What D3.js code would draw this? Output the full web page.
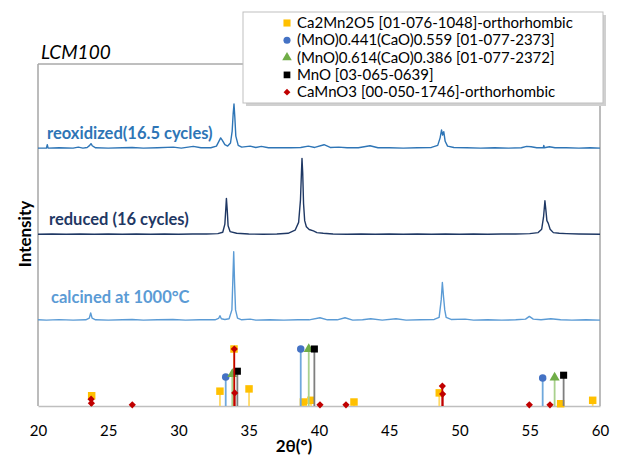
<!DOCTYPE html>
<html>
  <head>
    <script src="https://d3js.org/d3.v7.min.js"></script>
    <style>
      body { margin: 0; background: #fff; }
      text { font-family: Lato, "Open Sans", sans-serif; }
    </style>
  </head>
  <body>
    <script>

    // x ticks (2theta, degrees)
    var xTicks = [20, 25, 30, 35, 40, 45, 50, 55, 60];

    // measured patterns: [2theta, intensity above own baseline]
    var reoxidized = [
      [20,0],[20.6,0],[20.66,1],[20.72,0],[21.5,0.1],[22.5,0],[22.87,0.3],[23.2,0],[23.5,0.2],
      [23.68,0.8],[23.77,1.3],[23.86,0.7],[24.1,0.1],[25,0],[26,0.1],[26.7,0.2],[27.5,0],
      [28.5,0.1],[29.63,0.3],[30.2,0],[31.05,0.5],[31.6,0.1],[32.3,0.1],[32.7,0.6],[32.9,2.2],
      [33.0,3.0],[33.1,2.4],[33.3,1.0],[33.5,0.6],[33.7,1.5],[33.82,5],[33.89,10],[33.95,12.9],
      [34.01,9],[34.08,3.5],[34.25,0.8],[34.5,0.3],[35.1,0.6],[35.5,0.2],[35.9,0.5],[36.4,0.1],
      [37.2,0.1],[38,0.1],[38.7,0.2],[39.24,0.6],[39.7,0.2],[40.36,1.0],[40.8,0.2],[41.4,0.3],
      [42,0.1],[42.8,0.1],[43.63,0.7],[44.2,0.1],[45,0.1],[46,0],[47,0.1],[48,0.2],[48.45,0.8],
      [48.62,3],[48.72,5.3],[48.8,3.8],[48.88,4.8],[48.98,2],[49.15,0.6],[49.6,0.2],[50.5,0.1],
      [51.5,0],[52.5,0.1],[53.5,0],[54.4,0.1],[54.78,0.5],[55.1,0.4],[55.5,0.1],[55.96,0.1],
      [56.0,0.8],[56.04,0.1],[56.4,0.4],[56.8,0.1],[57.6,0.1],[58.5,0],[59.3,0.1],[60,0]
    ];
    var reduced = [
      [20,0],[21,0.1],[22,0],[23,0.1],[24,0],[25,0.1],[26,0],[27,0.1],[28,0],[29,0.1],[30,0],
      [31,0.1],[32,0.1],[32.8,0.2],[33.15,0.6],[33.3,3],[33.36,7],[33.41,10.5],[33.47,7],
      [33.53,2.5],[33.67,0.8],[34.14,0.3],[35,0.1],[36,0],[37,0.1],[37.8,0.3],[38.3,1.2],
      [38.55,3.5],[38.68,10],[38.75,18],[38.79,22.2],[38.84,18],[38.9,9],[38.98,4],[39.1,2.2],
      [39.3,1.4],[39.6,1.0],[39.85,0.5],[40.3,0.3],[41,0.1],[42,0],[43,0.1],[44,0],[45,0.1],
      [46,0],[47,0.1],[48,0],[49,0.1],[50,0],[51,0.1],[52,0],[53,0.1],[54,0.1],[55,0.2],
      [55.6,0.5],[55.85,1.5],[55.98,5],[56.08,9.8],[56.15,7],[56.22,4],[56.32,3.2],[56.45,1.5],
      [56.68,0.5],[57.1,0.3],[57.6,0.2],[58.5,0.1],[60,0]
    ];
    var calcined = [
      [20,0.1],[20.6,0],[21.5,0.15],[22.5,0],[23.4,0.1],[23.65,0.6],[23.75,2.1],[23.85,0.6],
      [24.1,0.1],[25,0],[26,0.1],[26.7,0.2],[27.5,0],[28.5,0.1],[29.6,0.2],[30.5,0],[31.5,0.1],
      [32.6,0.1],[32.85,0.5],[32.95,1.3],[33.05,0.4],[33.3,0.2],[33.6,0.4],[33.8,3],[33.87,12],
      [33.93,20],[33.99,11],[34.06,3],[34.2,0.6],[34.5,0.1],[35.1,0.3],[35.5,0],[36.5,0.1],
      [37.5,0],[38.5,0.1],[39.3,0.1],[40.07,0.7],[40.6,0.1],[41.3,0.1],[41.85,0.7],[42.4,0],
      [43.1,0.1],[43.68,0.4],[44.5,0],[45.48,0.4],[46.2,0],[47.2,0.1],[48.2,0.2],[48.55,0.8],
      [48.7,6],[48.78,11],[48.86,7],[48.95,3],[49.05,0.8],[49.4,0.2],[50.4,0.3],[51,0],[52,0.1],
      [53,0],[54,0.1],[54.7,0.3],[54.97,1.1],[55.25,0.3],[55.8,0.1],[56.5,0.4],[57.2,0.1],
      [58,0],[59,0.1],[60,0]
    ];
    var traceNames = ["reoxidized(16.5 cycles)", "reduced (16 cycles)", "calcined at 1000°C"];
    var traceOffsets = [75.4, 50.2, 25.1];

    // reference cards: [2theta, relative intensity]
    var phaseNames = [
      "Ca2Mn2O5 [01-076-1048]-orthorhombic",
      "(MnO)0.441(CaO)0.559 [01-077-2373]",
      "(MnO)0.614(CaO)0.386 [01-077-2372]",
      "MnO [03-065-0639]",
      "CaMnO3 [00-050-1746]-orthorhombic"
    ];
    var ca2mn2o5 = [[23.82,18],[32.95,26],[33.95,100],[35.02,30],[38.89,7],[39.43,10],[42.49,7],[48.56,23],[57.2,4],[59.48,10]];
    var mno441 = [[33.36,51],[38.70,100],[55.92,49]];
    var mno614 = [[33.83,56],[39.27,100],[56.77,50]];
    var mno = [[34.19,61],[39.67,100],[57.41,54]];
    var camno3 = [[23.78,12],[23.8,5],[26.71,2],[33.97,100],[34.0,23],[40.07,2],[41.92,2],[48.78,35],[48.8,21],[54.97,2],[56.44,2]];

    var w = 622, h = 459;
    var plotLeft = 38, plotRight = 600, plotTop = 64, plotBottom = 406;

    var svg = d3.select("body").append("svg")
      .attr("width", w)
      .attr("height", h);

    var x = d3.scaleLinear().domain([20, 60]).range([plotLeft, plotRight]);
    var y = d3.scaleLinear().domain([0, 100]).range([plotBottom, plotTop]);
    var refY = d3.scaleLinear().domain([0, 100]).range([plotBottom, 349]);

    // plot frame
    svg.append("line").attr("x1", plotLeft).attr("x2", plotRight).attr("y1", plotTop).attr("y2", plotTop)
      .attr("stroke", "#7f7f7f").attr("stroke-width", 1);
    svg.append("line").attr("x1", plotLeft).attr("x2", plotLeft).attr("y1", plotTop).attr("y2", plotBottom)
      .attr("stroke", "#a6a6a6").attr("stroke-width", 1.5);
    svg.append("line").attr("x1", plotRight).attr("x2", plotRight).attr("y1", plotTop).attr("y2", plotBottom)
      .attr("stroke", "#a6a6a6").attr("stroke-width", 1.5);

    // x axis
    var xAxis = d3.axisBottom(x).tickValues(xTicks).tickSize(0).tickPadding(19);
    var gx = svg.append("g").attr("transform", "translate(0," + plotBottom + ")").call(xAxis);
    gx.select(".domain").attr("stroke", "#bfbfbf").attr("stroke-width", 1.5);
    gx.selectAll("text").attr("font-size", "15px").attr("fill", "#000")
      .style("font-family", "Lato, sans-serif");

    // patterns
    var traceColors = ["#2e75b6", "#1f3864", "#5b9bd5"];
    var traces = [reoxidized, reduced, calcined];
    traces.forEach(function(data, i) {
      var line = d3.line()
        .x(function(d) { return x(d[0]); })
        .y(function(d) { return y(d[1] + traceOffsets[i]); });
      svg.append("path")
        .datum(data)
        .attr("d", line)
        .attr("fill", "none")
        .attr("stroke", traceColors[i])
        .attr("stroke-width", 1.4)
        .attr("stroke-linejoin", "round");
    });

    // pattern labels
    var labelPos = [[47, 139], [49, 225], [51, 303]];
    svg.selectAll(".tlabel")
      .data(traceNames)
      .enter()
      .append("text")
      .attr("class", "tlabel")
      .attr("x", function(d, i) { return labelPos[i][0]; })
      .attr("y", function(d, i) { return labelPos[i][1]; })
      .attr("font-size", "16.5px")
      .attr("font-weight", "bold")
      .attr("fill", function(d, i) { return traceColors[i]; })
      .text(function(d) { return d; });

    // reference sticks
    var phases = [ca2mn2o5, mno441, mno614, mno, camno3];
    var stickColors = ["#ffd966", "#6fa8dc", "#a9d18e", "#7f7f7f", "#c00000"];
    var markColors = ["#ffc000", "#4472c4", "#70ad47", "#000000", "#c00000"];
    var markTypes = [d3.symbolSquare, d3.symbolCircle, d3.symbolTriangle, d3.symbolSquare, d3.symbolSquare];
    var markSizes = [56, 44, 44, 50, 26];
    var markRotate = [0, 0, 0, 0, 45];

    phases.forEach(function(data, i) {
      var g = svg.append("g");
      g.selectAll("line")
        .data(data)
        .enter()
        .append("line")
        .attr("x1", function(d) { return x(d[0]); })
        .attr("x2", function(d) { return x(d[0]); })
        .attr("y1", plotBottom)
        .attr("y2", function(d) { return refY(d[1]); })
        .attr("stroke", stickColors[i])
        .attr("stroke-width", 1.8);
      g.selectAll("path")
        .data(data)
        .enter()
        .append("path")
        .attr("d", d3.symbol().type(markTypes[i]).size(markSizes[i]))
        .attr("transform", function(d) {
          return "translate(" + x(d[0]) + "," + refY(d[1]) + ") rotate(" + markRotate[i] + ")";
        })
        .attr("fill", markColors[i]);
    });

    // legend
    var lg = svg.append("g").attr("transform", "translate(243,12)");
    lg.append("rect").attr("x", 3).attr("y", 3).attr("width", 360).attr("height", 91)
      .attr("fill", "#d0d0d0");
    lg.append("rect").attr("x", 0).attr("y", 0).attr("width", 360).attr("height", 91)
      .attr("fill", "#fff").attr("stroke", "#bfbfbf").attr("stroke-width", 1);
    phaseNames.forEach(function(name, i) {
      var cy = 11 + i * 17.3;
      lg.append("path")
        .attr("d", d3.symbol().type(markTypes[i]).size(markSizes[i] * 0.9))
        .attr("transform", "translate(44," + cy + ") rotate(" + markRotate[i] + ")")
        .attr("fill", markColors[i]);
      lg.append("text")
        .attr("x", 54)
        .attr("y", cy + 5)
        .attr("font-size", "15px")
        .attr("fill", "#000")
        .text(name);
    });

    // title and axis titles
    svg.append("text")
      .attr("x", 41).attr("y", 59)
      .attr("font-size", "19px")
      .attr("font-style", "italic")
      .text("LCM100");

    svg.append("text")
      .attr("x", 294).attr("y", 452)
      .attr("text-anchor", "middle")
      .attr("font-size", "17px")
      .attr("font-weight", "bold")
      .text("2θ(°)");

    svg.append("text")
      .attr("transform", "translate(31,234) rotate(-90)")
      .attr("text-anchor", "middle")
      .attr("font-size", "17px")
      .attr("font-weight", "bold")
      .text("Intensity");

    </script>
  </body>
</html>
